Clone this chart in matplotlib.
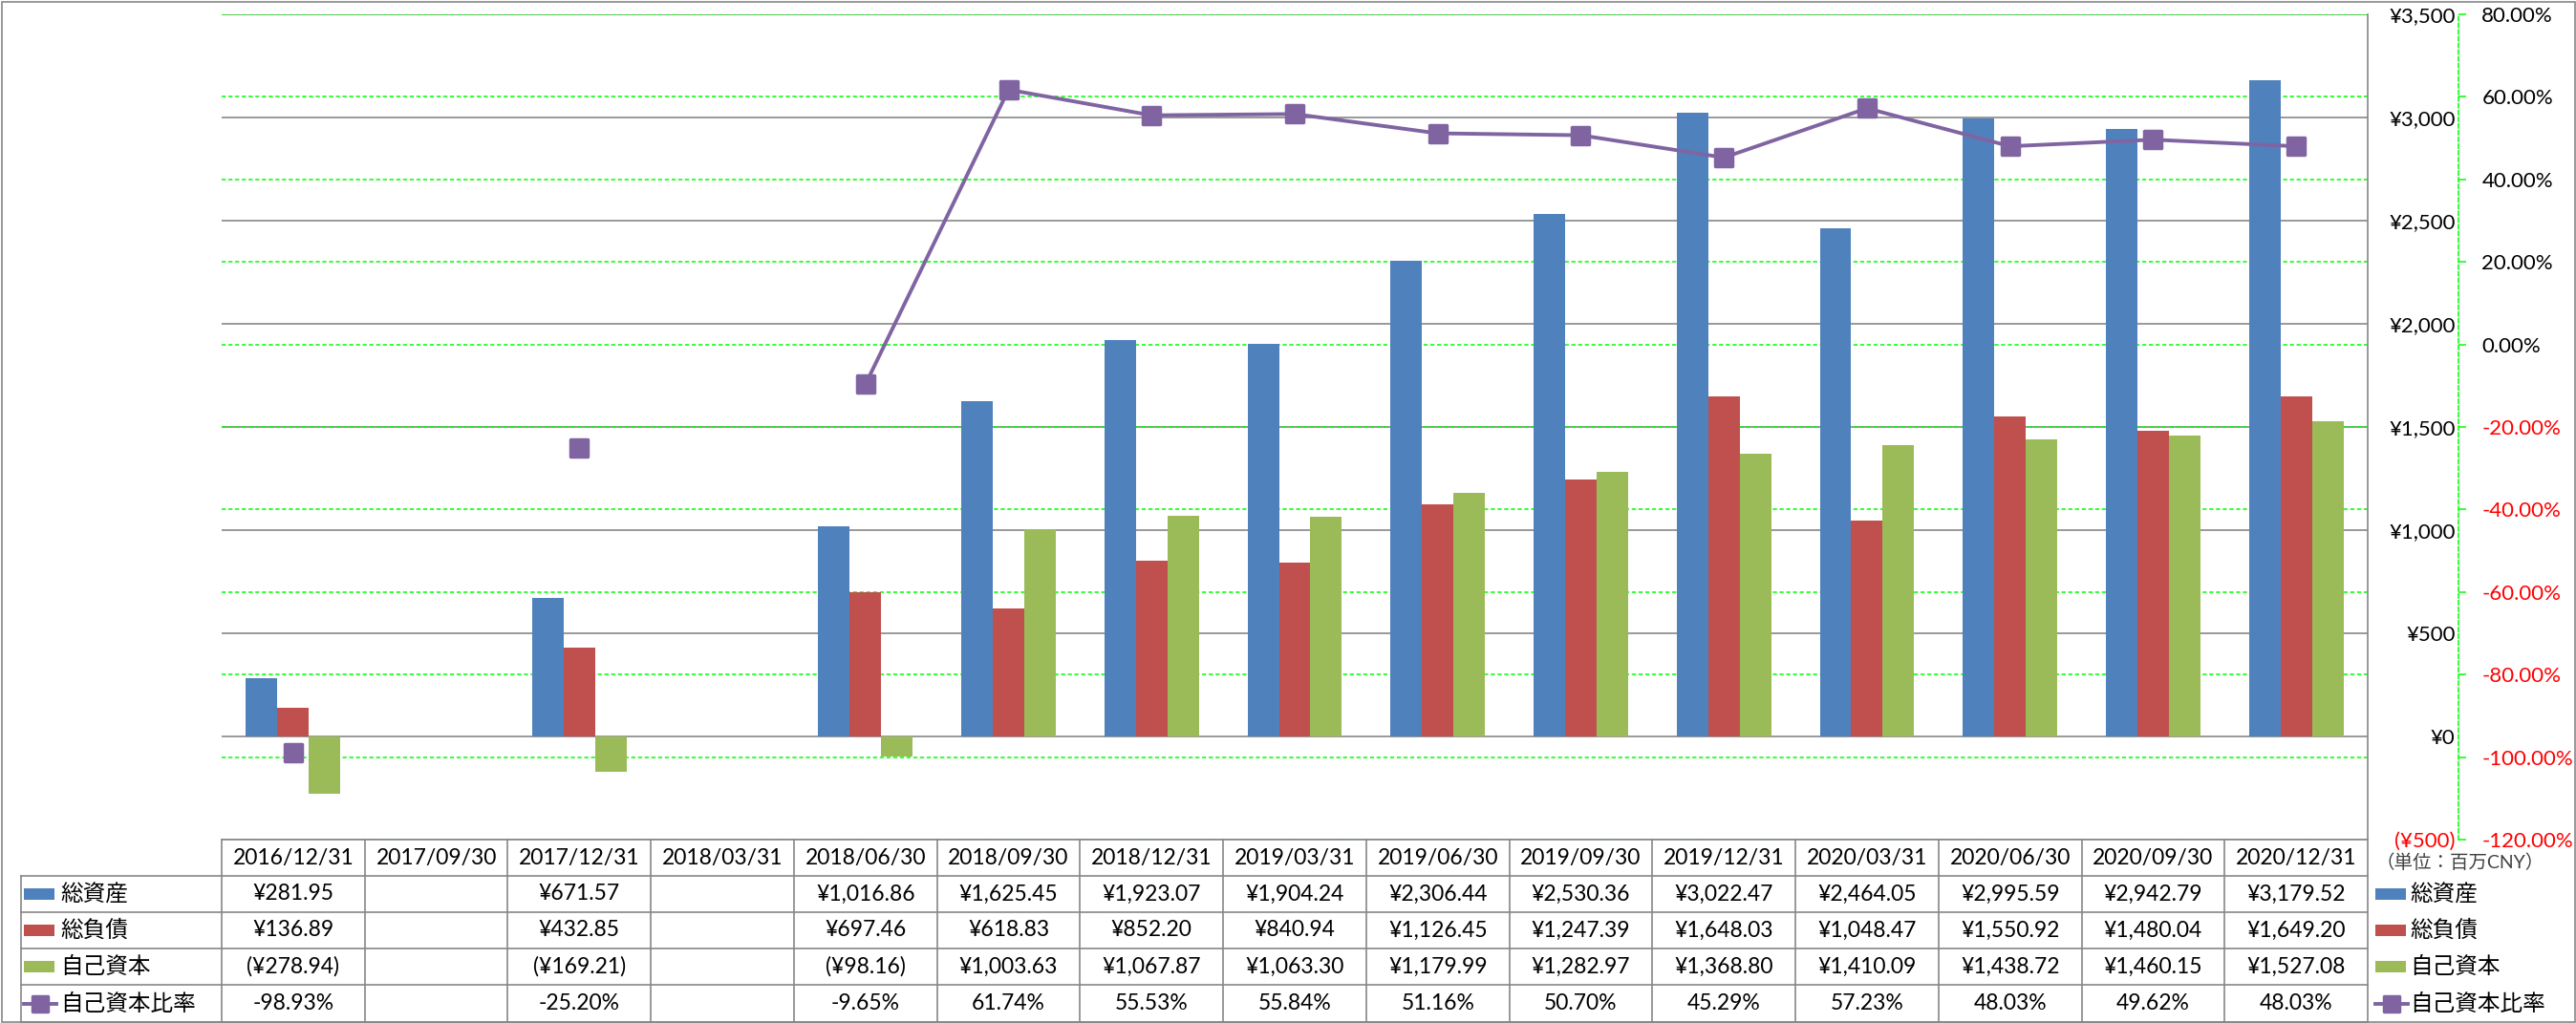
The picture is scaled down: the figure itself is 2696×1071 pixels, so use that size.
import numpy as np
import matplotlib

matplotlib.use("Agg")

import matplotlib.pyplot as plt
from matplotlib import transforms
from matplotlib.lines import Line2D
from matplotlib.markers import MarkerStyle
from matplotlib.patches import Rectangle

plt.rcParams["font.family"] = ["Lato", "Noto Sans CJK JP", "DejaVu Sans"]

# data (百万CNY)
dates = [
    "2016/12/31", "2017/09/30", "2017/12/31", "2018/03/31", "2018/06/30",
    "2018/09/30", "2018/12/31", "2019/03/31", "2019/06/30", "2019/09/30",
    "2019/12/31", "2020/03/31", "2020/06/30", "2020/09/30", "2020/12/31",
]
nan = np.nan
total_assets = [281.95, nan, 671.57, nan, 1016.86, 1625.45, 1923.07, 1904.24,
                2306.44, 2530.36, 3022.47, 2464.05, 2995.59, 2942.79, 3179.52]
total_liabilities = [136.89, nan, 432.85, nan, 697.46, 618.83, 852.20, 840.94,
                     1126.45, 1247.39, 1648.03, 1048.47, 1550.92, 1480.04, 1649.20]
equity = [-278.94, nan, -169.21, nan, -98.16, 1003.63, 1067.87, 1063.30,
          1179.99, 1282.97, 1368.80, 1410.09, 1438.72, 1460.15, 1527.08]
equity_ratio = [-98.93, nan, -25.20, nan, -9.65, 61.74, 55.53, 55.84,
                51.16, 50.70, 45.29, 57.23, 48.03, 49.62, 48.03]

series_names = ["総資産", "総負債", "自己資本", "自己資本比率"]
yen_ticks = np.arange(-500, 3501, 500)
pct_ticks = np.arange(-120, 81, 20)

BLUE, RED, GREEN, PURPLE = "#4F81BD", "#C0504D", "#9BBB59", "#8064A2"
GRAY = "#878787"
LIME = "#00FF00"
AXIS_FS = 16

W, H = 2696, 1071
fig = plt.figure(figsize=(W / 100, H / 100), dpi=100)


def fx(px):
    return px / W


def fy(py):
    return 1 - py / H


def fmt_yen(v, decimals=0):
    s = f"¥{abs(v):,.{decimals}f}"
    return f"({s})" if v < 0 else s


PLOT_L, PLOT_R, PLOT_T, PLOT_B = 232, 2478, 15, 879
ax = fig.add_axes([fx(PLOT_L), fy(PLOT_B), fx(PLOT_R - PLOT_L), (PLOT_B - PLOT_T) / H])

x = np.arange(len(dates))
bar_w = 0.22
for offset, values, color in zip([-1, 0, 1], [total_assets, total_liabilities, equity],
                                 [BLUE, RED, GREEN]):
    ax.bar(x + offset * bar_w, values, bar_w, color=color, zorder=2)

# secondary axis: 自己資本比率
ax2 = ax.twinx()
# spine position first: moving a spine resets the axis ticks
ax2.spines["right"].set_position(("axes", (2573 - PLOT_L) / (PLOT_R - PLOT_L)))
ax2.spines["right"].set_color(LIME)
ax2.spines["right"].set_linestyle((0, (2.8, 1.8)))
ax2.spines["right"].set_linewidth(1.1)
for side in ["top", "left", "bottom"]:
    ax2.spines[side].set_visible(False)
ax2.plot(x, equity_ratio, color=PURPLE, linewidth=2.8,
         marker=MarkerStyle("s", joinstyle="round"), markersize=13.5,
         markeredgewidth=2.5, markeredgecolor=PURPLE, zorder=3)
ax2.set_ylim(-120, 80)
ax2.set_yticks(pct_ticks, [f"{v:.2f}%" for v in pct_ticks])
ax2.tick_params(axis="y", length=6, width=1.1, color=LIME, pad=11.5,
                labelsize=AXIS_FS)
for value, tick in zip(pct_ticks, ax2.yaxis.get_major_ticks()):
    tick.label2.set_fontsize(AXIS_FS)
    tick.label2.set_color("red" if value < 0 else "black")

# primary axis: yen labels sit to the right of the plot
for side in ["top", "left", "bottom"]:
    ax.spines[side].set_visible(False)
ax.spines["right"].set_color(GRAY)
ax.spines["right"].set_linewidth(1.2)
ax.set_xlim(-0.5, len(dates) - 0.5)
ax.set_ylim(-500, 3500)
ax.set_xticks([])
ax.set_yticks(yen_ticks, [fmt_yen(v) for v in yen_ticks])
ax.yaxis.tick_right()
ax.tick_params(axis="y", length=0, pad=66, labelsize=AXIS_FS)
ax.grid(axis="y", color=GRAY, linewidth=1.2)
ax.set_axisbelow(True)
for value, tick in zip(yen_ticks, ax.yaxis.get_major_ticks()):
    tick.label2.set_fontsize(AXIS_FS)
    tick.label2.set_ha("right")
    tick.label2.set_color("red" if value < 0 else "black")

# green dashed gridlines for the percent axis, drawn behind the bars
grid_trans = transforms.blended_transform_factory(ax.transAxes, ax2.transData)
for p in pct_ticks:
    ax.plot([0, 1], [p, p], transform=grid_trans, color=LIME,
            linestyle=(0, (2.8, 1.8)), linewidth=1.1, zorder=0.6)

# data table
row_edges = [879, 917, 955, 993, 1031, 1070]
row_centers = [(a + b) / 2 for a, b in zip(row_edges[:-1], row_edges[1:])]
TAB_L = 22
tab_trans = transforms.blended_transform_factory(ax.transData, fig.transFigure)


def hline(y, x0, x1):
    fig.add_artist(Line2D([fx(x0), fx(x1)], [fy(y), fy(y)], transform=fig.transFigure,
                          color=GRAY, linewidth=1.2))


hline(row_edges[0], PLOT_L, PLOT_R)
for y in row_edges[1:]:
    hline(y, TAB_L, PLOT_R)
fig.add_artist(Line2D([fx(TAB_L)] * 2, [fy(row_edges[1]), fy(row_edges[-1])],
                      transform=fig.transFigure, color=GRAY, linewidth=1.2))
for edge in np.arange(len(dates) + 1) - 0.5:
    fig.add_artist(Line2D([edge, edge], [fy(row_edges[0]), fy(row_edges[-1])],
                          transform=tab_trans, color=GRAY, linewidth=1.2))

row_texts = [
    [fmt_yen(v, 2) if not np.isnan(v) else "" for v in total_assets],
    [fmt_yen(v, 2) if not np.isnan(v) else "" for v in total_liabilities],
    [fmt_yen(v, 2) if not np.isnan(v) else "" for v in equity],
    [f"{v:.2f}%" if not np.isnan(v) else "" for v in equity_ratio],
]
for i, d in enumerate(dates):
    fig.text(i, fy(row_centers[0]), d, transform=tab_trans, ha="center", va="center",
             fontsize=16.5)
    for r, texts in enumerate(row_texts):
        if texts[i]:
            fig.text(i, fy(row_centers[r + 1]), texts[i], transform=tab_trans,
                     ha="center", va="center", fontsize=16.5)


def legend_key(x0, yc, kind, color):
    if kind == "bar":
        fig.add_artist(Rectangle((fx(x0), fy(yc + 6)), fx(32), 12 / H,
                                 transform=fig.transFigure, color=color, linewidth=0))
    else:
        fig.add_artist(Line2D([fx(x0), fx(x0 + 34)], [fy(yc), fy(yc)],
                              transform=fig.transFigure, color=color, linewidth=2.8))
        fig.add_artist(Line2D([fx(x0 + 17)], [fy(yc)], transform=fig.transFigure,
                              color=color, marker=MarkerStyle("s", joinstyle="round"),
                              markersize=11, markeredgewidth=2.5))


key_kinds = ["bar", "bar", "bar", "line"]
key_colors = [BLUE, RED, GREEN, PURPLE]
for r, (name, kind, color) in enumerate(zip(series_names, key_kinds, key_colors)):
    yc = row_centers[r + 1]
    legend_key(25, yc, kind, color)
    fig.text(fx(63), fy(yc), name, ha="left", va="center", fontsize=17)
    legend_key(2486, yc, kind, color)
    fig.text(fx(2522), fy(yc), name, ha="left", va="center", fontsize=17)

fig.text(fx(2486), fy(903), "（単位：百万CNY）", ha="left", va="center",
         fontsize=14, color="#404040")

fig.add_artist(Rectangle((fx(1.5), fy(1069.5)), fx(W - 3), (1068) / H,
                         transform=fig.transFigure, fill=False, edgecolor=GRAY,
                         linewidth=1.2))

fig.savefig("out.png", dpi=100)
